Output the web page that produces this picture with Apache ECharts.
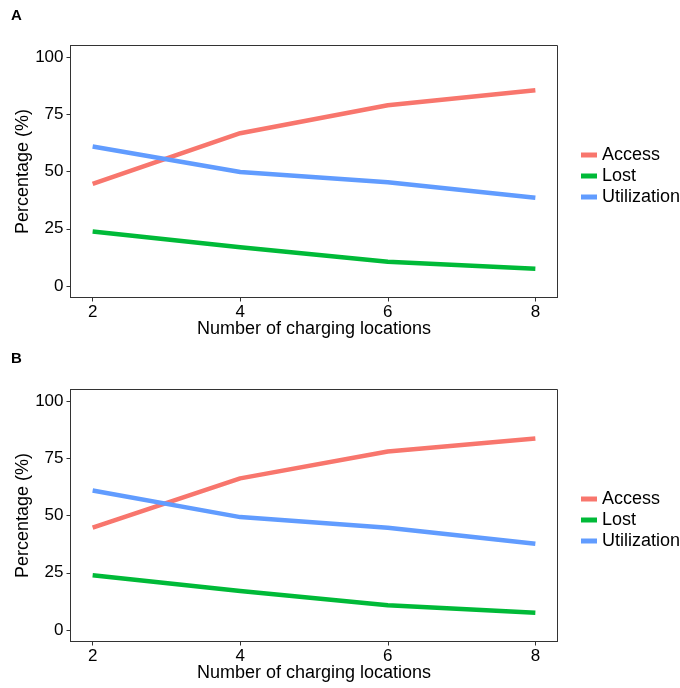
<!DOCTYPE html>
<html>
<head>
<meta charset="utf-8">
<script src="https://cdn.jsdelivr.net/npm/echarts@6/dist/echarts.min.js"></script>
<style>
html,body{margin:0;padding:0;background:#fff;}
#chart{width:680px;height:688px;}
</style>
</head>
<body>
<div id="chart"></div>
<script>
// Data
var xValues = [2, 4, 6, 8];
var xTicks = [2, 4, 6, 8];
var yTicks = [0, 25, 50, 75, 100];
var seriesNames = ['Access', 'Lost', 'Utilization'];
var colors = ['#F8766D', '#00BA38', '#619CFF'];

var accessA = [44.6, 66.7, 78.9, 85.5];
var lostA = [23.8, 16.9, 10.6, 7.5];
var utilA = [60.9, 49.8, 45.3, 38.5];

var accessB = [44.7, 66.2, 77.9, 83.6];
var lostB = [23.9, 17.0, 10.8, 7.6];
var utilB = [60.9, 49.3, 44.7, 37.7];

var panelLabels = ['A', 'B'];
var xTitle = 'Number of charging locations';
var yTitle = 'Percentage (%)';

var FONT = '"Liberation Sans", Arial, sans-serif';

function pairs(vals) { return xValues.map(function (x, i) { return [x, vals[i]]; }); }

var panels = [
  { top: 45.5, data: [accessA, lostA, utilA], legendTop: 139.5 },
  { top: 389.5, data: [accessB, lostB, utilB], legendTop: 483.5 }
];

var grids = [], xAxes = [], yAxes = [], series = [], legends = [], graphics = [];
panels.forEach(function (p, gi) {
  grids.push({ left: 70.5, top: p.top, width: 487, height: 252, show: true, borderColor: '#333', borderWidth: 1, containLabel: false, outerBoundsMode: 'none' });
  xAxes.push({
    type: 'value', gridIndex: gi, min: 1.7, max: 8.3,
    name: xTitle, nameLocation: 'middle', nameGap: 23, nameMoveOverlap: false,
    nameTextStyle: { fontFamily: FONT, fontSize: 18, color: '#000' },
    axisLine: { show: true, onZero: false, lineStyle: { color: '#333', width: 1 } },
    axisTick: { show: true, inside: false, length: 4, customValues: xTicks, lineStyle: { color: '#333', width: 1 } },
    axisLabel: { customValues: xTicks, margin: 6, fontFamily: FONT, fontSize: 17, color: '#000' },
    splitLine: { show: false }
  });
  yAxes.push({
    type: 'value', gridIndex: gi, min: -5, max: 105,
    name: yTitle, nameLocation: 'middle', nameGap: 38, nameMoveOverlap: false,
    nameTextStyle: { fontFamily: FONT, fontSize: 18, color: '#000' },
    axisLine: { show: true, onZero: false, lineStyle: { color: '#333', width: 1 } },
    axisTick: { show: true, inside: false, length: 4, customValues: yTicks, lineStyle: { color: '#333', width: 1 } },
    axisLabel: { customValues: yTicks, margin: 7, fontFamily: FONT, fontSize: 17, color: '#000' },
    splitLine: { show: false }
  });
  p.data.forEach(function (vals, si) {
    series.push({
      type: 'line', name: seriesNames[si], xAxisIndex: gi, yAxisIndex: gi,
      data: pairs(vals), showSymbol: false, symbol: 'none',
      lineStyle: { color: colors[si], width: 4.5, cap: 'butt', join: 'round' },
      itemStyle: { color: colors[si] },
      animation: false
    });
  });
  legends.push({
    left: 576, top: p.legendTop, orient: 'vertical', itemGap: 0,
    itemWidth: 16, itemHeight: 5, icon: 'rect', itemStyle: { borderWidth: 0 },
    data: seriesNames,
    textStyle: { fontFamily: FONT, fontSize: 18, color: '#000', lineHeight: 21, padding: [0, 0, 0, 0] },
    selectedMode: false
  });
  graphics.push({
    type: 'text', left: 11, top: gi === 0 ? 8 : 351,
    style: { text: panelLabels[gi], font: 'bold 15px ' + FONT, fill: '#000' }
  });
});

var chart = echarts.init(document.getElementById('chart'), null, { renderer: 'canvas' });
chart.setOption({
  backgroundColor: '#fff',
  animation: false,
  grid: grids,
  xAxis: xAxes,
  yAxis: yAxes,
  legend: legends,
  series: series,
  graphic: graphics
});
</script>
</body>
</html>
